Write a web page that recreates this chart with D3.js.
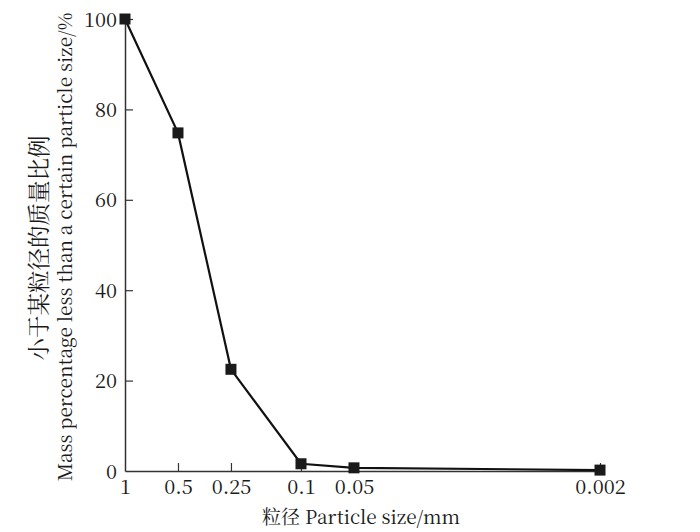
<!DOCTYPE html>
<html>
<head>
<meta charset="utf-8">
<script src="https://cdn.jsdelivr.net/npm/d3@7"></script>
<style>
  body { margin: 0; background: #fff; }
  svg text { font-family: "Noto Serif CJK SC", "Liberation Serif", "DejaVu Serif", serif; fill: #1a1a1a; }
</style>
</head>
<body>
<svg id="chart" width="700" height="532"></svg>
<script>
// Particle sizes (mm) and cumulative mass percentage passing
const sizes = [1, 0.5, 0.25, 0.1, 0.05, 0.002];
const percents = [100, 74.8, 22.5, 1.6, 0.7, 0.2];
const yTicks = [0, 20, 40, 60, 80, 100];

const width = 700, height = 532;
const margin = { top: 19, right: 100, bottom: 61, left: 125 };
const innerWidth = width - margin.left - margin.right;
const innerHeight = height - margin.top - margin.bottom;

const svg = d3.select("#chart");
const g = svg.append("g").attr("transform", `translate(${margin.left},${margin.top})`);

/*********************/
/*  Scales and axes  */
/*********************/
const xScale = d3.scaleLog().domain([1, 0.002]).range([0, 475]);
const yScale = d3.scaleLinear().domain([0, 100]).range([innerHeight, 0]);

const xAxis = g.append("g")
  .attr("transform", `translate(0,${innerHeight})`)
  .call(d3.axisBottom(xScale)
    .tickValues(sizes)
    .tickFormat(d => d)
    .tickSizeInner(-8)
    .tickSizeOuter(0)
    .tickPadding(12));

const yAxis = g.append("g")
  .call(d3.axisLeft(yScale)
    .tickValues(yTicks)
    .tickSizeInner(-8)
    .tickSizeOuter(0)
    .tickPadding(6));

[xAxis, yAxis].forEach(ax => {
  ax.attr("font-family", null);
  ax.select(".domain").attr("stroke", "#333").attr("stroke-width", 1.5);
  ax.selectAll(".tick line").attr("stroke", "#333").attr("stroke-width", 1.2);
  ax.selectAll(".tick text")
    .attr("font-size", 20)
    .attr("fill", "#1a1a1a");
});

// first x tick sits on the y axis, no tick mark needed
xAxis.selectAll(".tick line").filter(d => d === 1).remove();
yAxis.selectAll(".tick line").filter(d => d === 0).remove();
xAxis.selectAll(".tick text").attr("dy", "0.71em").attr("y", 9);
yAxis.selectAll(".tick text").attr("dy", "0.35em").attr("x", -8);

/**************************/
/*  Line and the markers  */
/**************************/
const data = sizes.map((s, i) => ({ size: s, pct: percents[i] }));

const line = d3.line()
  .x(d => xScale(d.size))
  .y(d => yScale(d.pct));

g.append("path")
  .datum(data)
  .attr("d", line)
  .attr("fill", "none")
  .attr("stroke", "#111")
  .attr("stroke-width", 2.2);

const sq = 11;
g.selectAll(".marker")
  .data(data)
  .join("rect")
    .attr("class", "marker")
    .attr("x", d => xScale(d.size) - sq / 2)
    .attr("y", d => yScale(d.pct) - sq / 2)
    .attr("width", sq)
    .attr("height", sq)
    .attr("fill", "#1a1a1a");

/*****************/
/*  Axis titles  */
/*****************/
svg.append("text")
  .attr("x", 361)
  .attr("y", 524)
  .attr("text-anchor", "middle")
  .attr("font-size", 19)
  .text("粒径 Particle size/mm");

svg.append("text")
  .attr("transform", "translate(47,248) rotate(-90)")
  .attr("text-anchor", "middle")
  .attr("font-size", 22.5)
  .text("小于某粒径的质量比例");

svg.append("text")
  .attr("transform", "translate(72,247) rotate(-90)")
  .attr("text-anchor", "middle")
  .attr("font-size", 19)
  .text("Mass percentage less than a certain particle size/%");
</script>
</body>
</html>
